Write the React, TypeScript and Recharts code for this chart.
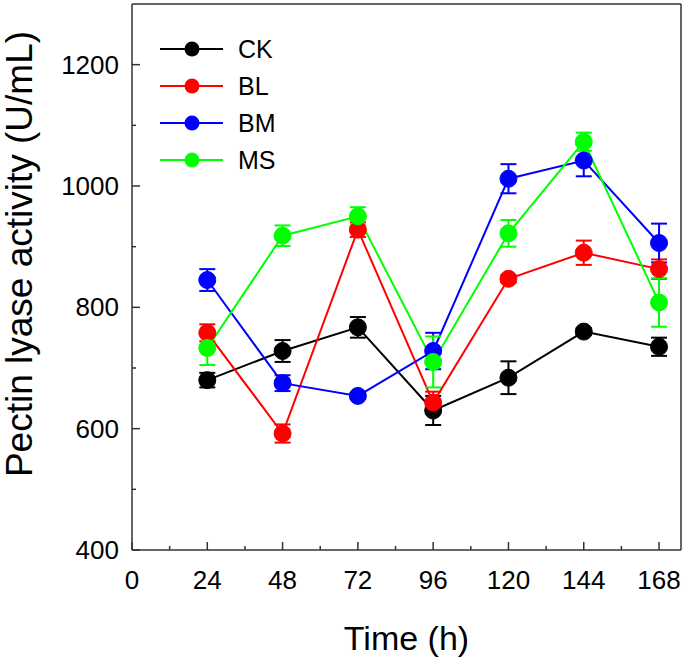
import React from 'react';
import { ComposedChart, Line, XAxis, YAxis, ErrorBar, ReferenceLine } from 'recharts';

// sampling times (h)
const times = [24, 48, 72, 96, 120, 144, 168];

// pectin lyase activity (U/mL) with error bars
const ck = [680, 728, 767, 630, 684, 760, 735];
const ckErr = [12, 18, 17, 24, 27, 6, 15];
const bl = [758, 592, 928, 643, 847, 890, 863];
const blErr = [14, 15, 12, 18, 6, 20, 16];
const bm = [845, 675, 654, 728, 1012, 1042, 906];
const bmErr = [18, 13, 5, 30, 24, 26, 32];
const ms = [733, 918, 950, 710, 922, 1073, 808];
const msErr = [28, 17, 15, 42, 22, 15, 40];

const xTicks = [0, 12, 24, 36, 48, 60, 72, 84, 96, 108, 120, 132, 144, 156, 168];
const yTicks = [400, 500, 600, 700, 800, 900, 1000, 1100, 1200];

const seriesList = [
  { key: 'CK', values: ck, errs: ckErr, color: '#000000' },
  { key: 'BL', values: bl, errs: blErr, color: '#ff0000' },
  { key: 'BM', values: bm, errs: bmErr, color: '#0000ff' },
  { key: 'MS', values: ms, errs: msErr, color: '#00ff00' },
];

const data = times.map((t, i) => {
  const row: any = { time: t };
  seriesList.forEach((s) => {
    row[s.key] = s.values[i];
    row[s.key + 'err'] = s.errs[i];
  });
  return row;
});

const FONT = 'Arial, "Liberation Sans", sans-serif';

const XTick = (props: any) => {
  const { x, y, payload } = props;
  const major = payload.value % 24 === 0;
  return (
    <g>
      <line x1={x} x2={x} y1={y} y2={y - (major ? 8 : 4)} stroke="#333" strokeWidth={1.5} />
      {major && (
        <text x={x} y={y + 39} textAnchor="middle" fontSize={26} fontFamily={FONT} fill="#000">
          {payload.value}
        </text>
      )}
    </g>
  );
};

const YTick = (props: any) => {
  const { x, y, payload } = props;
  const major = payload.value % 200 === 0;
  return (
    <g>
      <line x1={x} x2={x + (major ? 8 : 4)} y1={y} y2={y} stroke="#333" strokeWidth={1.5} />
      {major && (
        <text x={x - 13} y={y + 9} textAnchor="end" fontSize={26} fontFamily={FONT} fill="#000">
          {payload.value}
        </text>
      )}
    </g>
  );
};

const YTitle = () => (
  <text
    transform="translate(32,254) rotate(-90)"
    textAnchor="middle"
    fontSize={37}
    fontFamily={FONT}
    fill="#000"
  >
    Pectin lyase activity (U/mL)
  </text>
);

const LegendBox = () => (
  <svg width={140} height={170} style={{ position: 'absolute', left: 150, top: 25 }}>
    {seriesList.map((s, i) => {
      const cy = 24 + i * 37;
      return (
        <g key={s.key}>
          <line x1={10} x2={73} y1={cy} y2={cy} stroke={s.color} strokeWidth={2} />
          <circle cx={42} cy={cy} r={7.5} fill={s.color} />
          <text x={88} y={cy + 9} fontSize={25} fontFamily={FONT} fill="#000">
            {s.key}
          </text>
        </g>
      );
    })}
  </svg>
);

export default function App() {
  return (
    <div style={{ position: 'fixed', left: 0, top: 0, width: 685, height: 662, background: '#fff' }}>
      <ComposedChart width={685} height={662} data={data} margin={{ top: 4, right: 4, bottom: 0, left: 0 }}>
        <XAxis
          type="number"
          dataKey="time"
          domain={[0, 175]}
          ticks={xTicks}
          interval={0}
          tickSize={0}
          tickMargin={0}
          tick={<XTick />}
          height={112}
          axisLine={{ stroke: '#333', strokeWidth: 1.5 }}
          label={{ value: 'Time (h)', position: 'insideBottom', offset: 12, fontSize: 34, fontFamily: FONT, fill: '#000' }}
        />
        <YAxis
          type="number"
          domain={[400, 1300]}
          ticks={yTicks}
          interval={0}
          tickSize={0}
          tickMargin={0}
          tick={<YTick />}
          width={132}
          axisLine={{ stroke: '#333', strokeWidth: 1.5 }}
          label={{ content: () => <YTitle /> }}
        />
        <ReferenceLine y={1300} stroke="#333" strokeWidth={1.5} />
        <ReferenceLine x={175} stroke="#333" strokeWidth={1.5} />
        {seriesList.map((s) => (
          <Line
            key={s.key}
            dataKey={s.key}
            type="linear"
            stroke={s.color}
            strokeWidth={2}
            dot={{ r: 8.5, fill: s.color, stroke: s.color, strokeWidth: 1 }}
            activeDot={false}
            isAnimationActive={false}
          >
            <ErrorBar dataKey={s.key + 'err'} width={8} stroke={s.color} strokeWidth={2} direction="y" isAnimationActive={false} />
          </Line>
        ))}
      </ComposedChart>
      <LegendBox />
    </div>
  );
}
